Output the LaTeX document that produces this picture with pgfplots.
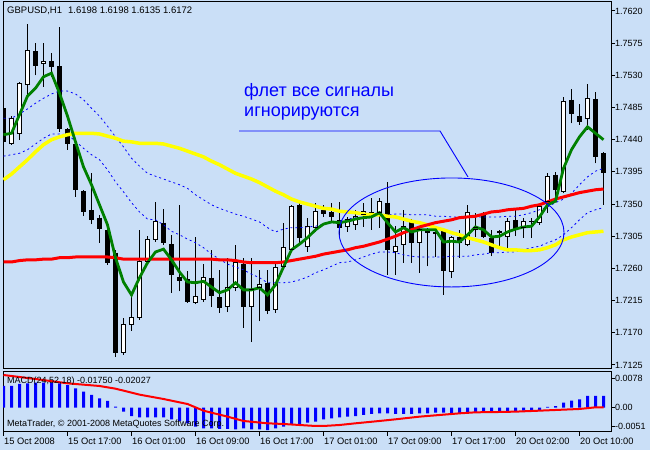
\documentclass[border=0pt]{standalone}
\usepackage{pgfplots}
\pgfplotsset{compat=1.18}
\usepackage{fontspec}
\setmainfont{Liberation Sans}
\definecolor{bg}{RGB}{202,223,247}
\definecolor{mtgreen}{RGB}{0,128,0}
\definecolor{mtblue}{RGB}{0,0,255}
\definecolor{mtred}{RGB}{255,0,0}
\definecolor{mtyellow}{RGB}{255,255,0}
\begin{document}
\begin{tikzpicture}[x=1bp,y=1bp]
\fill[bg] (0,0) rectangle (650,450);
\useasboundingbox (0,0) rectangle (650,450);
% ---------------- price panel ----------------
\begin{axis}[
  at={(3bp,81bp)}, anchor=south west,
  width=608bp, height=367bp, scale only axis,
  xmin=-0.0625, xmax=75.9375,
  ymin=1.711937, ymax=1.763259,
  axis line style={black, line width=1bp},
  xtick=\empty,
  ytick={1.7125,1.7170,1.7215,1.7260,1.7305,1.7350,1.7395,1.7440,1.7485,1.7530,1.7575,1.7620},
  yticklabels={1.7125,1.7170,1.7215,1.7260,1.7305,1.7350,1.7395,1.7440,1.7485,1.7530,1.7575,1.7620},
  ytick pos=right, yticklabel pos=right,
  tick align=outside, major tick length=4bp,
  tick style={black, line width=1bp},
  yticklabel style={font=\fontsize{9bp}{10bp}\selectfont, inner sep=0pt, anchor=west, xshift=0bp},
  unbounded coords=jump,
]
% wicks (low to high)
\addplot[black, line width=1bp, mark=none] coordinates {
(0,1.7421)(0,1.7489)(0,nan)(1,1.7433)(1,1.7473)(1,nan)(2,1.7440)(2,1.7521)(2,nan)
(3,1.7500)(3,1.7602)(3,nan)(4,1.7530)(4,1.7575)(4,nan)(5,1.7514)(5,1.7575)(5,nan)
(6,1.7528)(6,1.7561)(6,nan)(7,1.7451)(7,1.7598)(7,nan)(8,1.7426)(8,1.7456)(8,nan)
(9,1.7360)(9,1.7442)(9,nan)(10,1.7333)(10,1.7370)(10,nan)(11,1.7322)(11,1.7393)(11,nan)
(12,1.7296)(12,1.7335)(12,nan)(13,1.7265)(13,1.7317)(13,nan)(14,1.7136)(14,1.7286)(14,nan)
(15,1.7139)(15,1.7191)(15,nan)(16,1.7173)(16,1.7220)(16,nan)(17,1.7188)(17,1.7314)(17,nan)
(18,1.7268)(18,1.7305)(18,nan)(19,1.7297)(19,1.7353)(19,nan)(20,1.7293)(20,1.7343)(20,nan)
(21,1.7226)(21,1.7307)(21,nan)(22,1.7228)(22,1.7349)(22,nan)(23,1.7212)(23,1.7256)(23,nan)
(24,1.7210)(24,1.7304)(24,nan)(25,1.7213)(25,1.7266)(25,nan)(26,1.7206)(26,1.7286)(26,nan)
(27,1.7198)(27,1.7258)(27,nan)(28,1.7199)(28,1.7275)(28,nan)(29,1.7228)(29,1.7293)(29,nan)
(30,1.7177)(30,1.7275)(30,nan)(31,1.7157)(31,1.7275)(31,nan)(32,1.7186)(32,1.7258)(32,nan)
(33,1.7196)(33,1.7258)(33,nan)(34,1.7198)(34,1.7266)(34,nan)(35,1.7261)(35,1.7324)(35,nan)
(36,1.7283)(36,1.7349)(36,nan)(37,1.7296)(37,1.7352)(37,nan)(38,1.7283)(38,1.7331)(38,nan)
(39,1.7311)(39,1.7352)(39,nan)(40,1.7332)(40,1.7349)(40,nan)(41,1.7325)(41,1.7352)(41,nan)
(42,1.7304)(42,1.7353)(42,nan)(43,1.7311)(43,1.7332)(43,nan)(44,1.7314)(44,1.7342)(44,nan)
(45,1.7318)(45,1.7352)(45,nan)(46,1.7314)(46,1.7358)(46,nan)(47,1.7317)(47,1.7358)(47,nan)
(48,1.7251)(48,1.7381)(48,nan)(49,1.7251)(49,1.7319)(49,nan)(50,1.7268)(50,1.7342)(50,nan)
(51,1.7268)(51,1.7329)(51,nan)(52,1.7254)(52,1.7317)(52,nan)(53,1.7263)(53,1.7317)(53,nan)
(54,1.7276)(54,1.7314)(54,nan)(55,1.7223)(55,1.7317)(55,nan)(56,1.7247)(56,1.7305)(56,nan)
(57,1.7275)(57,1.7314)(57,nan)(58,1.7291)(58,1.7349)(58,nan)(59,1.7304)(59,1.7338)(59,nan)
(60,1.7303)(60,1.7339)(60,nan)(61,1.7277)(61,1.7314)(61,nan)(62,1.7290)(62,1.7314)(62,nan)
(63,1.7289)(63,1.7331)(63,nan)(64,1.7305)(64,1.7342)(64,nan)(65,1.7303)(65,1.7331)(65,nan)
(66,1.7303)(66,1.7331)(66,nan)(67,1.7321)(67,1.7349)(67,nan)(68,1.7338)(68,1.7393)(68,nan)
(69,1.7356)(69,1.7395)(69,nan)(70,1.7365)(70,1.7500)(70,nan)(71,1.7463)(71,1.7511)(71,nan)
(72,1.7461)(72,1.7490)(72,nan)(73,1.7454)(73,1.7518)(73,nan)(74,1.7407)(74,1.7507)(74,nan)
(75,1.7349)(75,1.7423)
};
% bearish bodies (open to close)
\addplot[black, line width=5bp, mark=none] coordinates {
(0,1.7484)(0,1.7437)(0,nan)(4,1.7564)(4,1.7543)(4,nan)(6,1.7550)(6,1.7542)(6,nan)
(7,1.7543)(7,1.7455)(7,nan)(8,1.7455)(8,1.7434)(8,nan)(9,1.7434)(9,1.7370)(9,nan)
(10,1.7368)(10,1.7339)(10,nan)(11,1.7342)(11,1.7328)(11,nan)(12,1.7331)(12,1.7315)(12,nan)
(13,1.7314)(13,1.7268)(13,nan)(14,1.7282)(14,1.7142)(14,nan)(20,1.7324)(20,1.7296)(20,nan)
(21,1.7294)(21,1.7251)(21,nan)(22,1.7248)(22,1.7242)(22,nan)(23,1.7245)(23,1.7213)(23,nan)
(26,1.7247)(26,1.7221)(26,nan)(27,1.7220)(27,1.7205)(27,nan)(30,1.7266)(30,1.7206)(30,nan)
(33,1.7240)(33,1.7200)(33,nan)(37,1.7349)(37,1.7303)(37,nan)(40,1.7342)(40,1.7336)(40,nan)
(41,1.7339)(41,1.7332)(41,nan)(42,1.7328)(42,1.7317)(42,nan)(46,1.7339)(46,1.7335)(46,nan)
(48,1.7352)(48,1.7286)(48,nan)(51,1.7328)(51,1.7296)(51,nan)(53,1.7312)(53,1.7310)(53,nan)
(54,1.7311)(54,1.7308)(54,nan)(55,1.7314)(55,1.7256)(55,nan)(57,1.7304)(57,1.7296)(57,nan)
(60,1.7335)(60,1.7304)(60,nan)(61,1.7303)(61,1.7282)(61,nan)(64,1.7328)(64,1.7314)(64,nan)
(69,1.7391)(69,1.7370)(69,nan)(71,1.7496)(71,1.7476)(71,nan)(72,1.7473)(72,1.7465)(72,nan)
(74,1.7497)(74,1.7416)(74,nan)(75,1.7421)(75,1.7393)
};
% bullish bodies: outline, white fill, top and bottom edges
\addplot[black, line width=5bp, mark=none] coordinates {
(1,1.7435)(1,1.7470)(1,nan)(2,1.7448)(2,1.7518)(2,nan)(3,1.7517)(3,1.7565)(3,nan)
(5,1.7546)(5,1.7550)(5,nan)(15,1.7142)(15,1.7182)(15,nan)(16,1.7181)(16,1.7192)(16,nan)
(17,1.7191)(17,1.7269)(17,nan)(18,1.7269)(18,1.7301)(18,nan)(19,1.7300)(19,1.7325)(19,nan)
(24,1.7213)(24,1.7221)(24,nan)(25,1.7216)(25,1.7248)(25,nan)(28,1.7207)(28,1.7233)(28,nan)
(29,1.7234)(29,1.7268)(29,nan)(31,1.7207)(31,1.7231)(31,nan)(32,1.7234)(32,1.7238)(32,nan)
(34,1.7202)(34,1.7261)(34,nan)(35,1.7262)(35,1.7289)(35,nan)(36,1.7286)(36,1.7346)(36,nan)
(38,1.7290)(38,1.7318)(38,nan)(39,1.7317)(39,1.7339)(39,nan)(43,1.7318)(43,1.7329)(43,nan)
(44,1.7322)(44,1.7333)(44,nan)(45,1.7336)(45,1.7339)(45,nan)(47,1.7338)(47,1.7353)(47,nan)
(49,1.7283)(49,1.7291)(49,nan)(50,1.7294)(50,1.7318)(50,nan)(52,1.7296)(52,1.7314)(52,nan)
(56,1.7256)(56,1.7303)(56,nan)(58,1.7294)(58,1.7338)(58,nan)(59,1.7314)(59,1.7317)(59,nan)
(62,1.7310)(62,1.7311)(62,nan)(63,1.7304)(63,1.7326)(63,nan)(65,1.7317)(65,1.7325)(65,nan)
(66,1.7325)(66,1.7326)(66,nan)(67,1.7324)(67,1.7346)(67,nan)(68,1.7353)(68,1.7388)(68,nan)
(70,1.7368)(70,1.7493)(70,nan)(73,1.7469)(73,1.7497)
};
\addplot[white, line width=3bp, mark=none] coordinates {
(1,1.7435)(1,1.7470)(1,nan)(2,1.7448)(2,1.7518)(2,nan)(3,1.7517)(3,1.7565)(3,nan)
(5,1.7546)(5,1.7550)(5,nan)(15,1.7142)(15,1.7182)(15,nan)(16,1.7181)(16,1.7192)(16,nan)
(17,1.7191)(17,1.7269)(17,nan)(18,1.7269)(18,1.7301)(18,nan)(19,1.7300)(19,1.7325)(19,nan)
(24,1.7213)(24,1.7221)(24,nan)(25,1.7216)(25,1.7248)(25,nan)(28,1.7207)(28,1.7233)(28,nan)
(29,1.7234)(29,1.7268)(29,nan)(31,1.7207)(31,1.7231)(31,nan)(32,1.7234)(32,1.7238)(32,nan)
(34,1.7202)(34,1.7261)(34,nan)(35,1.7262)(35,1.7289)(35,nan)(36,1.7286)(36,1.7346)(36,nan)
(38,1.7290)(38,1.7318)(38,nan)(39,1.7317)(39,1.7339)(39,nan)(43,1.7318)(43,1.7329)(43,nan)
(44,1.7322)(44,1.7333)(44,nan)(45,1.7336)(45,1.7339)(45,nan)(47,1.7338)(47,1.7353)(47,nan)
(49,1.7283)(49,1.7291)(49,nan)(50,1.7294)(50,1.7318)(50,nan)(52,1.7296)(52,1.7314)(52,nan)
(56,1.7256)(56,1.7303)(56,nan)(58,1.7294)(58,1.7338)(58,nan)(59,1.7314)(59,1.7317)(59,nan)
(62,1.7310)(62,1.7311)(62,nan)(63,1.7304)(63,1.7326)(63,nan)(65,1.7317)(65,1.7325)(65,nan)
(66,1.7325)(66,1.7326)(66,nan)(67,1.7324)(67,1.7346)(67,nan)(68,1.7353)(68,1.7388)(68,nan)
(70,1.7368)(70,1.7493)(70,nan)(73,1.7469)(73,1.7497)
};
\addplot[only marks, mark=-, mark size=2.5bp, mark options={black, line width=1bp}] coordinates {
(1,1.7435)(1,1.7470)(2,1.7448)(2,1.7518)(3,1.7517)(3,1.7565)
(5,1.7546)(5,1.7550)(15,1.7142)(15,1.7182)(16,1.7181)(16,1.7192)
(17,1.7191)(17,1.7269)(18,1.7269)(18,1.7301)(19,1.7300)(19,1.7325)
(24,1.7213)(24,1.7221)(25,1.7216)(25,1.7248)(28,1.7207)(28,1.7233)
(29,1.7234)(29,1.7268)(31,1.7207)(31,1.7231)(32,1.7234)(32,1.7238)
(34,1.7202)(34,1.7261)(35,1.7262)(35,1.7289)(36,1.7286)(36,1.7346)
(38,1.7290)(38,1.7318)(39,1.7317)(39,1.7339)(43,1.7318)(43,1.7329)
(44,1.7322)(44,1.7333)(45,1.7336)(45,1.7339)(47,1.7338)(47,1.7353)
(49,1.7283)(49,1.7291)(50,1.7294)(50,1.7318)(52,1.7296)(52,1.7314)
(56,1.7256)(56,1.7303)(58,1.7294)(58,1.7338)(59,1.7314)(59,1.7317)
(62,1.7310)(62,1.7311)(63,1.7304)(63,1.7326)(65,1.7317)(65,1.7325)
(66,1.7325)(66,1.7326)(67,1.7324)(67,1.7346)(68,1.7353)(68,1.7388)
(70,1.7368)(70,1.7493)(73,1.7469)(73,1.7497)
};
% upper and lower bands
\addplot[mtblue, line width=0.8bp, dash pattern=on 2bp off 3bp, mark=none] coordinates {
(0,1.7470)(1,1.7470)(2,1.7476)(3,1.7483)(4,1.7491)(5,1.7498)(6,1.7504)(7,1.7508)(8,1.7508)
(9,1.7504)(10,1.7496)(11,1.7484)(12,1.7473)(13,1.7459)(14,1.7444)(15,1.7430)(16,1.7414)
(17,1.7403)(18,1.7393)(19,1.7389)(20,1.7385)(21,1.7381)(22,1.7377)(23,1.7372)(24,1.7363)
(25,1.7356)(26,1.7349)(27,1.7344)(28,1.7340)(29,1.7336)(30,1.7333)(31,1.7329)(32,1.7325)
(33,1.7317)(34,1.7311)(35,1.7315)(36,1.7317)(37,1.7317)(38,1.7318)(39,1.7319)(40,1.7322)
(41,1.7324)(42,1.7326)(43,1.7329)(44,1.7331)(45,1.7332)(46,1.7333)(47,1.7335)(48,1.7335)
(49,1.7336)(50,1.7336)(51,1.7335)(52,1.7335)(53,1.7335)(54,1.7333)(55,1.7333)(56,1.7332)
(57,1.7332)(58,1.7332)(59,1.7332)(60,1.7332)(61,1.7332)(62,1.7332)(63,1.7333)(64,1.7333)
(65,1.7335)(66,1.7338)(67,1.7342)(68,1.7346)(69,1.7352)(70,1.7357)(71,1.7365)(72,1.7377)
(73,1.7388)(74,1.7396)(75,1.7400)
};
\addplot[mtblue, line width=0.8bp, dash pattern=on 2bp off 3bp, mark=none] coordinates {
(0,1.7417)(1,1.7419)(2,1.7421)(3,1.7426)(4,1.7434)(5,1.7442)(6,1.7448)(7,1.7448)(8,1.7447)
(9,1.7438)(10,1.7428)(11,1.7419)(12,1.7412)(13,1.7398)(14,1.7381)(15,1.7367)(16,1.7352)
(17,1.7339)(18,1.7329)(19,1.7328)(20,1.7321)(21,1.7312)(22,1.7307)(23,1.7301)(24,1.7296)
(25,1.7289)(26,1.7280)(27,1.7273)(28,1.7266)(29,1.7262)(30,1.7258)(31,1.7252)(32,1.7247)
(33,1.7240)(34,1.7240)(35,1.7240)(36,1.7241)(37,1.7244)(38,1.7248)(39,1.7254)(40,1.7258)
(41,1.7263)(42,1.7268)(43,1.7269)(44,1.7272)(45,1.7276)(46,1.7280)(47,1.7283)(48,1.7283)
(49,1.7282)(50,1.7279)(51,1.7277)(52,1.7276)(53,1.7276)(54,1.7276)(55,1.7276)(56,1.7277)
(57,1.7277)(58,1.7277)(59,1.7279)(60,1.7280)(61,1.7282)(62,1.7282)(63,1.7283)(64,1.7283)
(65,1.7286)(66,1.7289)(67,1.7291)(68,1.7296)(69,1.7300)(70,1.7307)(71,1.7317)(72,1.7328)
(73,1.7338)(74,1.7342)(75,1.7345)
};
% slow MA (yellow)
\addplot[mtyellow, line width=3.5bp, mark=none] coordinates {
(0,1.7384)(1,1.7392)(2,1.7402)(3,1.7412)(4,1.7423)(5,1.7433)(6,1.7440)(7,1.7444)(8,1.7447)
(9,1.7449)(10,1.7449)(11,1.7449)(12,1.7448)(13,1.7445)(14,1.7442)(15,1.7438)(16,1.7437)
(17,1.7435)(18,1.7435)(19,1.7435)(20,1.7434)(21,1.7431)(22,1.7428)(23,1.7424)(24,1.7420)
(25,1.7416)(26,1.7410)(27,1.7405)(28,1.7399)(29,1.7393)(30,1.7389)(31,1.7385)(32,1.7380)
(33,1.7374)(34,1.7368)(35,1.7363)(36,1.7357)(37,1.7353)(38,1.7350)(39,1.7347)(40,1.7344)
(41,1.7343)(42,1.7340)(43,1.7339)(44,1.7338)(45,1.7336)(46,1.7335)(47,1.7335)(48,1.7333)
(49,1.7332)(50,1.7329)(51,1.7326)(52,1.7324)(53,1.7321)(54,1.7317)(55,1.7314)(56,1.7310)
(57,1.7307)(58,1.7303)(59,1.7300)(60,1.7297)(61,1.7293)(62,1.7289)(63,1.7286)(64,1.7286)
(65,1.7285)(66,1.7285)(67,1.7286)(68,1.7289)(69,1.7293)(70,1.7300)(71,1.7304)(72,1.7307)
(73,1.7310)(74,1.7311)(75,1.7312)
};
% long MA (red)
\addplot[mtred, line width=3bp, mark=none] coordinates {
(0,1.7269)(1,1.7269)(2,1.7271)(3,1.7272)(4,1.7272)(5,1.7273)(6,1.7273)(7,1.7275)(8,1.7275)
(9,1.7276)(10,1.7276)(11,1.7276)(12,1.7276)(13,1.7276)(14,1.7275)(15,1.7273)(16,1.7273)
(17,1.7273)(18,1.7273)(19,1.7273)(20,1.7273)(21,1.7273)(22,1.7273)(23,1.7273)(24,1.7273)
(25,1.7273)(26,1.7273)(27,1.7272)(28,1.7272)(29,1.7271)(30,1.7269)(31,1.7268)(32,1.7268)
(33,1.7268)(34,1.7268)(35,1.7269)(36,1.7271)(37,1.7273)(38,1.7275)(39,1.7277)(40,1.7280)
(41,1.7282)(42,1.7284)(43,1.7286)(44,1.7289)(45,1.7291)(46,1.7294)(47,1.7297)(48,1.7301)
(49,1.7305)(50,1.7310)(51,1.7314)(52,1.7318)(53,1.7321)(54,1.7324)(55,1.7326)(56,1.7328)
(57,1.7331)(58,1.7332)(59,1.7333)(60,1.7336)(61,1.7339)(62,1.7340)(63,1.7342)(64,1.7343)
(65,1.7344)(66,1.7347)(67,1.7349)(68,1.7353)(69,1.7357)(70,1.7360)(71,1.7363)(72,1.7366)
(73,1.7368)(74,1.7370)(75,1.7371)
};
% fast MA (green)
\addplot[mtgreen, line width=2.8bp, mark=none] coordinates {
(0,1.7447)(1,1.7449)(2,1.7475)(3,1.7501)(4,1.7512)(5,1.7528)(6,1.7533)(7,1.7505)(8,1.7473)
(9,1.7437)(10,1.7402)(11,1.7377)(12,1.7349)(13,1.7321)(14,1.7275)(15,1.7241)(16,1.7223)
(17,1.7247)(18,1.7268)(19,1.7283)(20,1.7287)(21,1.7272)(22,1.7255)(23,1.7241)(24,1.7240)
(25,1.7242)(26,1.7234)(27,1.7226)(28,1.7230)(29,1.7240)(30,1.7230)(31,1.7230)(32,1.7233)
(33,1.7223)(34,1.7237)(35,1.7262)(36,1.7286)(37,1.7294)(38,1.7303)(39,1.7314)(40,1.7322)
(41,1.7325)(42,1.7324)(43,1.7326)(44,1.7329)(45,1.7331)(46,1.7332)(47,1.7338)(48,1.7324)
(49,1.7311)(50,1.7317)(51,1.7311)(52,1.7314)(53,1.7314)(54,1.7314)(55,1.7297)(56,1.7298)
(57,1.7297)(58,1.7307)(59,1.7318)(60,1.7314)(61,1.7304)(62,1.7305)(63,1.7311)(64,1.7315)
(65,1.7318)(66,1.7319)(67,1.7332)(68,1.7349)(69,1.7354)(70,1.7400)(71,1.7426)(72,1.7444)
(73,1.7458)(74,1.7449)(75,1.7440)
};
% annotation: ellipse and pointer line
\draw[mtblue, line width=0.9bp] (axis cs:56,1.73103) ellipse [x radius=112.5bp, y radius=54.5bp];
\draw[mtblue, line width=0.9bp] (axis cs:29.4375,1.74522) -- (axis cs:54.5625,1.74522) -- (axis cs:58.0625,1.73879);
\end{axis}
% ---------------- MACD panel ----------------
\begin{axis}[
  at={(3bp,18bp)}, anchor=south west,
  width=608bp, height=60bp, scale only axis,
  xmin=-0.0625, xmax=75.9375,
  ymin=-0.00647, ymax=0.00948,
  axis line style={black, line width=1bp},
  xtick={0,8,16,24,32,40,48,56,64,72},
  xticklabels={15 Oct 2008,15 Oct 17:00,16 Oct 01:00,16 Oct 09:00,16 Oct 17:00,17 Oct 01:00,17 Oct 09:00,17 Oct 17:00,20 Oct 02:00,20 Oct 10:00},
  xtick pos=bottom,
  ytick={-0.0051,0,0.0078},
  yticklabels={-0.0051,0.00,0.0078},
  scaled y ticks=false, scaled x ticks=false,
  ytick pos=right, yticklabel pos=right,
  tick align=outside, major tick length=4bp,
  tick style={black, line width=1bp},
  yticklabel style={font=\fontsize{9bp}{10bp}\selectfont, inner sep=0pt, anchor=west, xshift=0bp},
  xticklabel style={font=\fontsize{9.3bp}{10bp}\selectfont, inner sep=0pt, anchor=north west, xshift=0.5bp, yshift=-1.5bp},
]
\addplot[ybar, bar width=3bp, bar shift=0pt, fill=mtblue, draw=none] coordinates {
(0,0.00576)(1,0.00576)(2,0.00629)(3,0.00647)(4,0.00664)(5,0.00664)(6,0.00664)(7,0.00647)
(8,0.00602)(9,0.00514)(10,0.00425)(11,0.00337)(12,0.00248)(13,0.00177)(14,0.00027)
(15,-0.00106)(16,-0.00222)(17,-0.00257)(18,-0.00257)(19,-0.00257)(20,-0.00257)(21,-0.00310)
(22,-0.00354)(23,-0.00416)(24,-0.00505)(25,-0.00549)(26,-0.00549)(27,-0.00567)(28,-0.00567)
(29,-0.00576)(30,-0.00549)(31,-0.00576)(32,-0.00576)(33,-0.00594)(34,-0.00549)(35,-0.00505)
(36,-0.00461)(37,-0.00434)(38,-0.00399)(39,-0.00372)(40,-0.00310)(41,-0.00284)(42,-0.00257)
(43,-0.00239)(44,-0.00222)(45,-0.00195)(46,-0.00168)(47,-0.00151)(48,-0.00151)(49,-0.00168)
(50,-0.00168)(51,-0.00168)(52,-0.00151)(53,-0.00151)(54,-0.00133)(55,-0.00133)(56,-0.00151)
(57,-0.00151)(58,-0.00133)(59,-0.00133)(60,-0.00133)(61,-0.00133)(62,-0.00106)(63,-0.00106)
(64,-0.00106)(65,-0.00080)(66,-0.00080)(67,-0.00062)(68,0.00018)(69,0.00044)(70,0.00133)
(71,0.00186)(72,0.00222)(73,0.00310)(74,0.00310)(75,0.00310)
};
\addplot[mtred, line width=2bp, mark=none] coordinates {
(0,0.00868)(4,0.00762)(8,0.00647)(12,0.00576)(14,0.00505)(17,0.00346)(20,0.00230)(23,0.00097)
(25,-0.00080)(28,-0.00239)(30,-0.00354)(33,-0.00416)(35,-0.00434)(37,-0.00461)(39,-0.00487)
(40,-0.00487)(42,-0.00461)(44,-0.00416)(47,-0.00354)(49,-0.00310)(52,-0.00239)(54,-0.00204)
(57,-0.00151)(59,-0.00124)(62,-0.00115)(64,-0.00106)(67,-0.00080)(69,-0.00062)(72,-0.00035)
(74,0.00009)(75,0.00009)
};
\end{axis}
% ---------------- texts ----------------
\node[anchor=west, inner sep=0pt, font=\fontsize{9.5bp}{11bp}\selectfont] at (7,439.5) {GBPUSD,H1\hspace{6bp}1.6198 1.6198 1.6135 1.6172};
\node[anchor=base west, inner sep=0pt, text=mtblue, font=\fontsize{18bp}{20bp}\selectfont] at (244,353) {флет все сигналы};
\node[anchor=base west, inner sep=0pt, text=mtblue, font=\fontsize{18bp}{20bp}\selectfont] at (244,333) {игнорируются};
\node[anchor=west, inner sep=0pt, font=\fontsize{9bp}{10bp}\selectfont] at (7,68.5) {MACD(24,52,18) -0.01750 -0.02027};
\node[anchor=west, inner sep=0pt, font=\fontsize{9bp}{10bp}\selectfont] at (7,26) {MetaTrader, © 2001-2008 MetaQuotes Software Corp.};
\end{tikzpicture}
\end{document}
